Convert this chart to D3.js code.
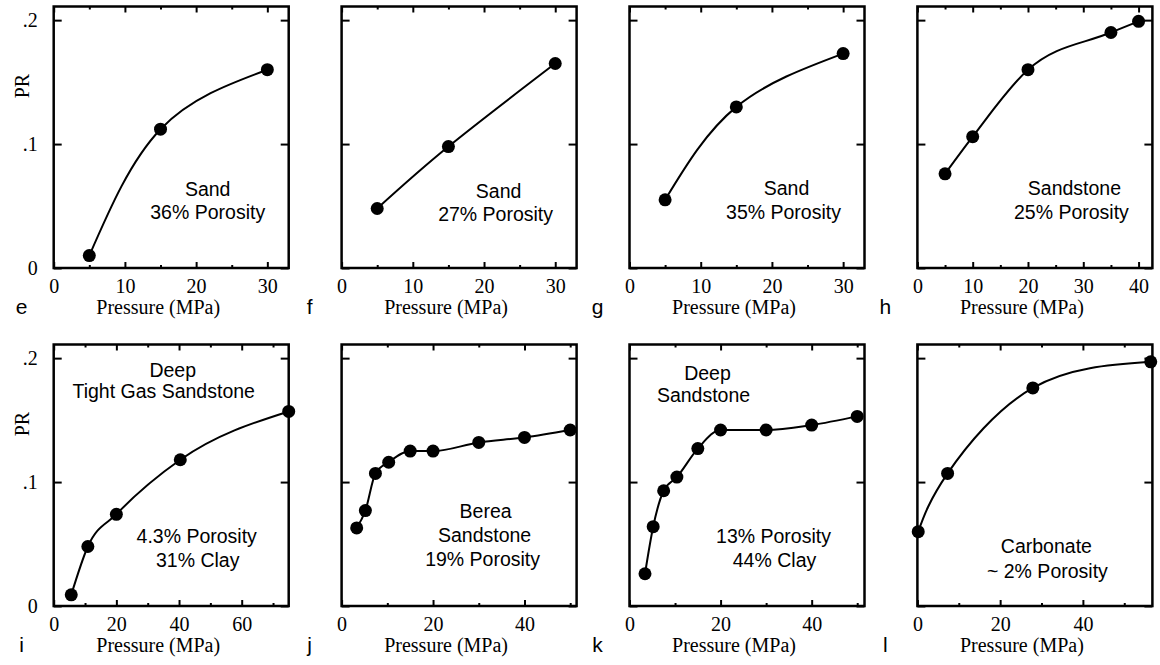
<!DOCTYPE html>
<html>
<head>
<meta charset="utf-8">
<script src="https://cdn.jsdelivr.net/npm/d3@7/dist/d3.min.js"></script>
<style>
  body { margin: 0; background: #ffffff; }
  .tick text { font-family: "Liberation Serif", "Times New Roman", serif; font-size: 20px; fill: #000; }
  .ann { font-family: "Liberation Sans", Arial, sans-serif; font-size: 19.5px; fill: #000; }
  .ttl { font-family: "Liberation Serif", "Times New Roman", serif; font-size: 20px; fill: #000; }
  .let { font-family: "Liberation Sans", Arial, sans-serif; font-size: 21px; fill: #000; }
</style>
</head>
<body>
<div id="chart"></div>
<script>

//----- Daten ------------------------------------------------------------------------------------------//

var panelLetters = ['e', 'f', 'g', 'h', 'i', 'j', 'k', 'l'];

var pressE = [5, 15, 30];
var prE    = [0.010, 0.112, 0.160];
var pressF = [5, 15, 30];
var prF    = [0.048, 0.098, 0.165];
var pressG = [5, 15, 30];
var prG    = [0.055, 0.130, 0.173];
var pressH = [5, 10, 20, 35, 40];
var prH    = [0.076, 0.106, 0.160, 0.190, 0.199];
var pressI = [5.6, 10.9, 20, 40.4, 75];
var prI    = [0.009, 0.048, 0.074, 0.118, 0.157];
var pressJ = [3.3, 5.2, 7.4, 10.3, 15, 20, 30, 40, 50];
var prJ    = [0.063, 0.077, 0.107, 0.116, 0.125, 0.125, 0.132, 0.136, 0.142];
var pressK = [3.4, 5.2, 7.5, 10.4, 15, 20, 30, 40, 50];
var prK    = [0.026, 0.064, 0.093, 0.104, 0.127, 0.142, 0.142, 0.146, 0.153];
var pressL = [0.2, 7.3, 27.9, 56.4];
var prL    = [0.060, 0.107, 0.176, 0.197];

var allPress = [pressE, pressF, pressG, pressH, pressI, pressJ, pressK, pressL];
var allPR    = [prE, prF, prG, prH, prI, prJ, prK, prL];

// Achsen
var xMax       = [33, 33, 33, 42.5, 75, 51.4, 51.6, 56.8];
var xMajor     = [[0, 10, 20, 30], [0, 10, 20, 30], [0, 10, 20, 30], [0, 10, 20, 30, 40],
                  [0, 20, 40, 60], [0, 20, 40], [0, 20, 40], [0, 20, 40]];
var xMinor     = [[5, 15, 25], [5, 15, 25], [5, 15, 25], [5, 15, 25, 35],
                  [10, 30, 50, 70], [10, 30, 50], [10, 30, 50], [10, 30, 50]];
var yTicks     = [0, 0.1, 0.2];
var yTickNames = ['0', '.1', '.2'];
var yMax = 0.211;

// Beschriftung in den Feldern
var annTexts = [
    ['Sand', '36% Porosity'],
    ['Sand', '27% Porosity'],
    ['Sand', '35% Porosity'],
    ['Sandstone', '25% Porosity'],
    ['Deep', 'Tight Gas Sandstone', '4.3% Porosity', '31% Clay'],
    ['Berea', 'Sandstone', '19% Porosity'],
    ['Deep', 'Sandstone', '13% Porosity', '44% Clay'],
    ['Carbonate', '~ 2% Porosity']
];

// Lage der Beschriftung (relativ zum Rahmen: dx Mitte, dy Grundlinie)
var annPos = [
    [[154, 189], [154, 212]],
    [[157, 191], [154, 214]],
    [[157, 188], [154, 212]],
    [[157, 188], [154, 212]],
    [[119, 32], [110, 53], [143, 198], [144, 222]],
    [[144, 173], [143, 197], [141, 221]],
    [[78, 35], [74, 57], [144, 198], [145, 222]],
    [[129, 208], [130, 233]]
];

// glatte Kurve oder monotone Kurve je Feld
var smoothPanel = [true, true, true, false, false, false, false, true];


//----- Zeichnen ---------------------------------------------------------------------------------------//

var W = 1160, H = 665;
var frameW = 235, frameH = 261.5;
var colLeft = [53.7, 341.6, 629.5, 917.4];
var rowTop = [6.5, 344.5];

var svg = d3.select('#chart').append('svg')
    .attr('width', W)
    .attr('height', H);

function drawPanel(p) {

    var col = p % 4;
    var row = Math.floor(p / 4);
    var left = colLeft[col];
    var top = rowTop[row];

    var g = svg.append('g')
        .attr('transform', 'translate(' + left + ',' + top + ')');

    var x = d3.scaleLinear().domain([0, xMax[p]]).range([0, frameW]);
    var y = d3.scaleLinear().domain([0, yMax]).range([frameH, 0]);

    // x Achse unten + oben
    var xb = g.append('g')
        .attr('transform', 'translate(0,' + frameH + ')')
        .call(d3.axisBottom(x).tickValues(xMajor[p]).tickSize(-6).tickPadding(11).tickFormat(d3.format('d')));
    xb.select('.domain').remove();

    var xbm = g.append('g')
        .attr('transform', 'translate(0,' + frameH + ')')
        .call(d3.axisBottom(x).tickValues(xMinor[p]).tickSize(-3).tickFormat(''));
    xbm.select('.domain').remove();

    var xt = g.append('g')
        .call(d3.axisTop(x).tickValues(xMajor[p]).tickSize(-6).tickFormat(''));
    xt.select('.domain').remove();

    var xtm = g.append('g')
        .call(d3.axisTop(x).tickValues(xMinor[p]).tickSize(-3).tickFormat(''));
    xtm.select('.domain').remove();

    // y Achse links + rechts
    var yl = g.append('g')
        .call(d3.axisLeft(y).tickValues(yTicks).tickSize(-8).tickPadding(16)
            .tickFormat(function (d, i) { return col == 0 ? yTickNames[i] : ''; }));
    yl.select('.domain').remove();

    var yr = g.append('g')
        .attr('transform', 'translate(' + frameW + ',0)')
        .call(d3.axisRight(y).tickValues(yTicks).tickSize(-8).tickFormat(''));
    yr.select('.domain').remove();

    g.selectAll('.tick line')
        .attr('stroke', '#000')
        .attr('stroke-width', 2);

    // Rahmen
    g.append('rect')
        .attr('x', 0)
        .attr('y', 0)
        .attr('width', frameW)
        .attr('height', frameH)
        .attr('fill', 'none')
        .attr('stroke', '#000')
        .attr('stroke-width', 2.5);

    // Kurve
    var pts = allPress[p].map(function (d, i) { return [d, allPR[p][i]]; });

    var line = d3.line()
        .x(function (d) { return x(d[0]); })
        .y(function (d) { return y(d[1]); })
        .curve(smoothPanel[p] ? d3.curveNatural : d3.curveMonotoneX);

    g.append('path')
        .datum(pts)
        .attr('d', line)
        .attr('fill', 'none')
        .attr('stroke', '#000')
        .attr('stroke-width', 2);

    g.selectAll('circle.pt')
        .data(pts)
        .enter().append('circle')
        .attr('class', 'pt')
        .attr('cx', function (d) { return x(d[0]); })
        .attr('cy', function (d) { return y(d[1]); })
        .attr('r', 6.5)
        .attr('fill', '#000');

    // Texte
    for (var k = 0; k < annTexts[p].length; k++) {
        g.append('text')
            .attr('class', 'ann')
            .attr('x', annPos[p][k][0])
            .attr('y', annPos[p][k][1])
            .attr('text-anchor', 'middle')
            .text(annTexts[p][k]);
    }

    g.append('text')
        .attr('class', 'ttl')
        .attr('x', frameW / 2 - 13)
        .attr('y', frameH + 46)
        .attr('text-anchor', 'middle')
        .text('Pressure (MPa)');

    g.append('text')
        .attr('class', 'let')
        .attr('x', -32)
        .attr('y', frameH + 46)
        .attr('text-anchor', 'middle')
        .text(panelLetters[p]);

    if (col == 0) {
        g.append('text')
            .attr('class', 'ttl')
            .attr('transform', 'translate(-25,' + (y(0.15) + 4) + ') rotate(-90)')
            .attr('text-anchor', 'middle')
            .text('PR');
    }
}

for (var p = 0; p < panelLetters.length; p++) {
    drawPanel(p);
}

</script>
</body>
</html>
